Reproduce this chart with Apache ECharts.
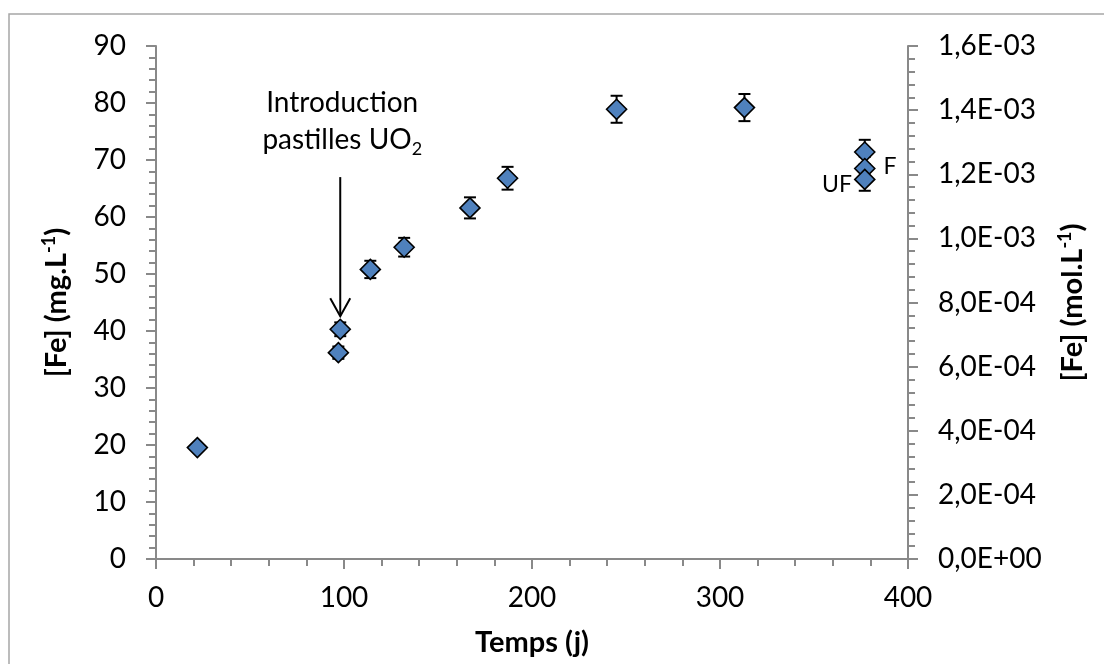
<!DOCTYPE html>
<html>
<head>
<meta charset="utf-8">
<script src="https://cdn.jsdelivr.net/npm/echarts@6/dist/echarts.min.js"></script>
<style>
  html, body { margin: 0; padding: 0; background: #fff; }
  #chart { width: 1104px; height: 664px; }
</style>
</head>
<body>
<div id="chart"></div>
<script>
// Iron concentration versus time (days)
const days     = [22, 97, 98, 114, 132, 167, 187, 245, 313, 377, 377, 377];
const feMgL    = [19.55, 36.2, 40.3, 50.8, 54.7, 61.6, 66.8, 78.9, 79.2, 71.4, 68.5, 66.6];
const feErr    = [0.59, 1.08, 1.21, 1.52, 1.64, 1.85, 2.0, 2.37, 2.38, 2.14, 2.06, 2.0];
const ptLabels = ['', '', '', '', '', '', '', '', '', '', 'F', 'UF'];

// Pellet introduction marker: x, arrow start, arrow tip (mg/L)
const introArrow = [[98, 67.0, 42.6]];

const xTicks  = { min: 0, max: 400, interval: 100 };
const yTicks  = { min: 0, max: 90, interval: 10 };
const y2Ticks = { min: 0, max: 0.0016, interval: 0.0002 };

const FONT = 'Lato';
const AXIS_GRAY = '#898989';
const MARK_BLUE = '#4F81BD';

function sciComma(v) {
  const s = v.toExponential(1);            // e.g. "1.6e-3"
  const [m, e] = s.split('e');
  const sign = e[0] === '-' ? '-' : '+';
  const ex = Math.abs(parseInt(e, 10)).toString().padStart(2, '0');
  return m.replace('.', ',') + 'E' + sign + ex;
}

const chart = echarts.init(document.getElementById('chart'), null, { renderer: 'canvas' });

const scatterData = days.map((d, i) => ({
  value: [d, feMgL[i]],
  label: ptLabels[i] ? {
    show: true,
    formatter: ptLabels[i],
    position: ptLabels[i] === 'F' ? 'right' : 'left',
    distance: ptLabels[i] === 'F' ? 8 : 2,
    offset: ptLabels[i] === 'F' ? [0, -2] : [0, 5]
  } : { show: false }
}));

const errData = days.map((d, i) => [d, feMgL[i] - feErr[i], feMgL[i] + feErr[i]]);

const nameRich = {
  b: { fontFamily: FONT, fontSize: 29, fontWeight: 'bold', color: '#000', lineHeight: 34 },
  sup: { fontFamily: FONT, fontSize: 18, fontWeight: 'bold', color: '#000', verticalAlign: 'top', lineHeight: 16 }
};

const option = {
  backgroundColor: '#fff',
  animation: false,
  textStyle: { fontFamily: FONT },
  grid: { left: 156, right: 196, top: 46, bottom: 105, containLabel: false },
  graphic: [{
    type: 'rect',
    shape: { x: 9, y: 14, width: 1200, height: 700 },
    style: { fill: 'none', stroke: '#a6a6a6', lineWidth: 1.5 },
    silent: true
  }],
  xAxis: {
    type: 'value',
    min: xTicks.min, max: xTicks.max, interval: xTicks.interval,
    name: 'Temps (j)',
    nameLocation: 'middle',
    nameGap: 69,
    nameTextStyle: { fontFamily: FONT, fontSize: 29, fontWeight: 'bold', color: '#000' },
    axisLine: { show: true, onZero: false, lineStyle: { color: AXIS_GRAY, width: 2 } },
    axisTick: { show: true, inside: false, length: 10, lineStyle: { color: AXIS_GRAY, width: 2 } },
    minorTick: { show: true, splitNumber: 5, length: 7, lineStyle: { color: AXIS_GRAY, width: 2 } },
    axisLabel: { fontFamily: FONT, fontSize: 28, color: '#000', margin: 25 },
    splitLine: { show: false }
  },
  yAxis: [{
    type: 'value',
    min: yTicks.min, max: yTicks.max, interval: yTicks.interval,
    name: '{b|[Fe] (mg.L}{sup|-1}{b|)}',
    nameLocation: 'middle',
    nameGap: 82,
    nameRotate: 90,
    nameTextStyle: { rich: nameRich },
    axisLine: { show: true, lineStyle: { color: AXIS_GRAY, width: 2 } },
    axisTick: { show: true, inside: false, length: 10, lineStyle: { color: AXIS_GRAY, width: 2 } },
    minorTick: { show: true, splitNumber: 5, length: 7, lineStyle: { color: AXIS_GRAY, width: 2 } },
    axisLabel: { fontFamily: FONT, fontSize: 28, color: '#000', margin: 30 },
    splitLine: { show: false }
  }, {
    type: 'value',
    position: 'right',
    min: y2Ticks.min, max: y2Ticks.max, interval: y2Ticks.interval,
    name: '{b|[Fe] (mol.L}{sup|-1}{b|)}',
    nameLocation: 'middle',
    nameGap: 148,
    nameRotate: 90,
    nameTextStyle: { rich: nameRich },
    axisLine: { show: true, lineStyle: { color: AXIS_GRAY, width: 2 } },
    axisTick: { show: true, inside: false, length: 10, lineStyle: { color: AXIS_GRAY, width: 2 } },
    minorTick: { show: true, splitNumber: 5, length: 7, lineStyle: { color: AXIS_GRAY, width: 2 } },
    axisLabel: { fontFamily: FONT, fontSize: 28, color: '#000', margin: 30, formatter: sciComma },
    splitLine: { show: false }
  }],
  series: [{
    // error bars with end caps
    type: 'custom',
    xAxisIndex: 0, yAxisIndex: 0,
    z: 2,
    data: errData,
    encode: { x: 0, y: [1, 2] },
    renderItem: function (params, api) {
      const lo = api.coord([api.value(0), api.value(1)]);
      const hi = api.coord([api.value(0), api.value(2)]);
      const cap = 6;
      const st = { stroke: '#000', lineWidth: 2 };
      return {
        type: 'group',
        children: [
          { type: 'line', shape: { x1: lo[0], y1: lo[1], x2: hi[0], y2: hi[1] }, style: st },
          { type: 'line', shape: { x1: lo[0] - cap, y1: lo[1], x2: lo[0] + cap, y2: lo[1] }, style: st },
          { type: 'line', shape: { x1: hi[0] - cap, y1: hi[1], x2: hi[0] + cap, y2: hi[1] }, style: st }
        ]
      };
    }
  }, {
    type: 'scatter',
    xAxisIndex: 0, yAxisIndex: 0,
    z: 3,
    symbol: 'diamond',
    symbolSize: 20,
    itemStyle: { color: MARK_BLUE, borderColor: '#000', borderWidth: 1.6, opacity: 1 },
    label: { fontFamily: FONT, fontSize: 23, color: '#000' },
    data: scatterData
  }, {
    // annotation arrow and text
    type: 'custom',
    xAxisIndex: 0, yAxisIndex: 0,
    z: 4,
    data: introArrow,
    encode: { x: 0, y: [1, 2] },
    renderItem: function (params, api) {
      const top = api.coord([api.value(0), api.value(1)]);
      const tip = api.coord([api.value(0), api.value(2)]);
      const st = { stroke: '#000', lineWidth: 2, fill: 'none' };
      return {
        type: 'group',
        children: [
          { type: 'line', shape: { x1: top[0], y1: top[1], x2: tip[0], y2: tip[1] }, style: st },
          { type: 'polyline', shape: { points: [[tip[0] - 10, tip[1] - 18], [tip[0], tip[1]], [tip[0] + 10, tip[1] - 18]] }, style: st },
          {
            type: 'text',
            x: top[0] + 2, y: top[1] - 19,
            style: {
              text: '{a|Introduction}\n{a|pastilles UO}{s|2}',
              align: 'center', verticalAlign: 'bottom',
              rich: {
                a: { fontFamily: FONT, fontSize: 28, fill: '#000', lineHeight: 37 },
                s: { fontFamily: FONT, fontSize: 18, fill: '#000', verticalAlign: 'bottom', lineHeight: 16 }
              }
            }
          }
        ]
      };
    }
  }]
};

chart.setOption(option);
</script>
</body>
</html>
